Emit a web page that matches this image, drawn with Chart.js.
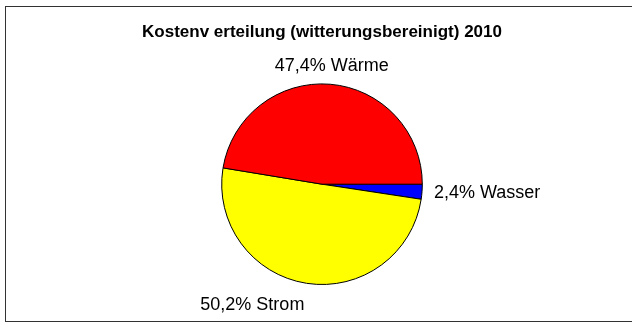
<!DOCTYPE html>
<html>
<head>
<meta charset="utf-8">
<script src="https://cdn.jsdelivr.net/npm/chart.js@4"></script>
<style>
  html, body { margin: 0; padding: 0; background: #fff; }
  canvas { display: block; }
</style>
</head>
<body>
<canvas id="chart" width="632" height="322"></canvas>
<script>
// slice order clockwise from 3 o'clock
const categories = ["Wasser", "Strom", "Wärme"];
const shares = [2.4, 50.2, 47.4];
const shareLabels = ["2,4%", "50,2%", "47,4%"];
const sliceColors = ["#0000FF", "#FFFF00", "#FF0000"];

const chartTitle = "Kostenv erteilung (witterungsbereinigt) 2010";
const fontFamily = "'Liberation Sans', Arial, sans-serif";

// where each label sits relative to its slice
const labelPlacement = [
    { shift: 0, gap: 12, align: "left" },
    { shift: 21, gap: 39, align: "center" },
    { shift: 0, gap: 18, align: "center" },
];

const frame = {
    id: "frame",
    beforeDraw(chart) {
        const ctx = chart.ctx;
        ctx.save();
        ctx.fillStyle = "#fff";
        ctx.fillRect(0, 0, chart.width, chart.height);
        ctx.strokeStyle = "#333";
        ctx.lineWidth = 1;
        ctx.strokeRect(5.5, 6.5, chart.width + 10, chart.height - 7);
        ctx.restore();
    },
};

const sliceLabels = {
    id: "sliceLabels",
    afterDraw(chart) {
        const ctx = chart.ctx;
        const meta = chart.getDatasetMeta(0);
        ctx.save();
        ctx.font = "18px " + fontFamily;
        ctx.fillStyle = "#000";
        ctx.textBaseline = "middle";
        meta.data.forEach((arc, i) => {
            const p = arc.getProps(["x", "y", "startAngle", "endAngle", "outerRadius"], true);
            const place = labelPlacement[i];
            const mid = (p.startAngle + p.endAngle) / 2 + place.shift * Math.PI / 180;
            const dist = p.outerRadius + place.gap;
            ctx.textAlign = place.align;
            ctx.fillText(shareLabels[i] + " " + categories[i],
                p.x + Math.cos(mid) * dist, p.y + Math.sin(mid) * dist);
        });
        ctx.restore();
    },
};

new Chart(document.getElementById("chart"), {
    type: "pie",
    data: {
        labels: categories,
        datasets: [{
            data: shares,
            backgroundColor: sliceColors,
            borderColor: "#000",
            borderWidth: 1,
        }],
    },
    options: {
        responsive: false,
        animation: false,
        rotation: 90,
        layout: { padding: { top: 0, left: 12, right: 0, bottom: 37 } },
        plugins: {
            legend: { display: false },
            tooltip: { enabled: false },
            title: {
                display: true,
                text: chartTitle,
                color: "#000",
                font: { family: fontFamily, size: 17, weight: "bold" },
                padding: { top: 22, bottom: 41 },
            },
        },
    },
    plugins: [frame, sliceLabels],
});
</script>
</body>
</html>
